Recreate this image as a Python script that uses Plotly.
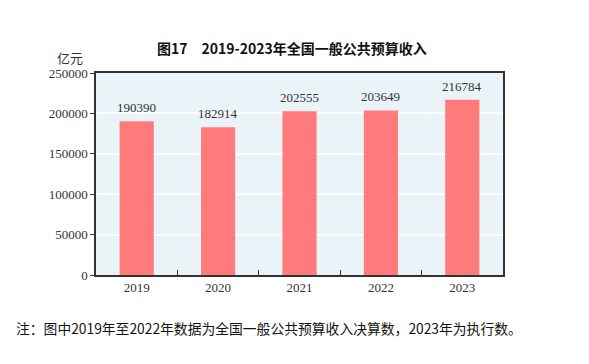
import plotly.graph_objects as go

years = ["2019", "2020", "2021", "2022", "2023"]
revenue = [190390, 182914, 202555, 203649, 216784]
y_ticks = [0, 50000, 100000, 150000, 200000, 250000]

L, T, R, B = 88, 65, 94, 97
W, H = 589, 364
pw, ph = W - L - R, H - T - B


def px(x):
    return (x - 8 - L) / pw


def py(y):
    return (H - B - (y - 8)) / ph


fig = go.Figure()
fig.add_trace(go.Bar(
    x=years, y=revenue, width=0.42,
    marker=dict(color="#FF7B7B", line=dict(width=0)),
    hoverinfo="x+y",
))
for i, v in enumerate(revenue):
    fig.add_annotation(x=i, y=v, text=str(v), xref="x", yref="y",
                       xanchor="center", yanchor="bottom", yshift=4, showarrow=False,
                       font=dict(family="Liberation Serif", size=13, color="#333333"))

fig.update_layout(
    width=W, height=H,
    margin=dict(l=L, r=R, t=T, b=B, autoexpand=False),
    paper_bgcolor="white", plot_bgcolor="#EAF4F8",
    showlegend=False,
    xaxis=dict(
        type="category", range=[-0.5, 4.5], tickson="boundaries", ticks="inside", ticklen=5,
        tickcolor="#333333", tickwidth=1,
        showline=True, linecolor="#333333", linewidth=1.5, mirror=True,
        tickfont=dict(family="Liberation Serif", size=13, color="#333333"),
        showgrid=False,
    ),
    yaxis=dict(
        range=[0, 250000], tickvals=y_ticks, ticktext=[str(v) for v in y_ticks],
        ticks="outside", ticklen=4, tickcolor="#333333",
        showline=True, linecolor="#333333", linewidth=1.5, mirror=True,
        gridcolor="white", gridwidth=1.5, zeroline=False,
        tickfont=dict(family="Liberation Serif", size=13, color="#333333"),
    ),
)
fig.add_annotation(text="<b>图17　2019-2023年全国一般公共预算收入</b>", xref="paper", yref="paper",
                   x=px(292), y=py(48), xanchor="center", yanchor="middle",
                   showarrow=False, font=dict(family="Noto Sans CJK SC", size=14, color="#111111"))
fig.add_annotation(text="亿元", xref="paper", yref="paper",
                   x=px(70), y=py(58), xanchor="center", yanchor="middle",
                   showarrow=False, font=dict(family="Noto Sans CJK SC", size=13, color="#333333"))
fig.add_annotation(text="注：图中2019年至2022年数据为全国一般公共预算收入决算数，2023年为执行数。",
                   xref="paper", yref="paper",
                   x=px(14), y=py(328), xanchor="left", yanchor="middle",
                   showarrow=False, font=dict(family="Noto Sans CJK SC", size=13.8, color="#111111"))

fig.write_html("out.html")
